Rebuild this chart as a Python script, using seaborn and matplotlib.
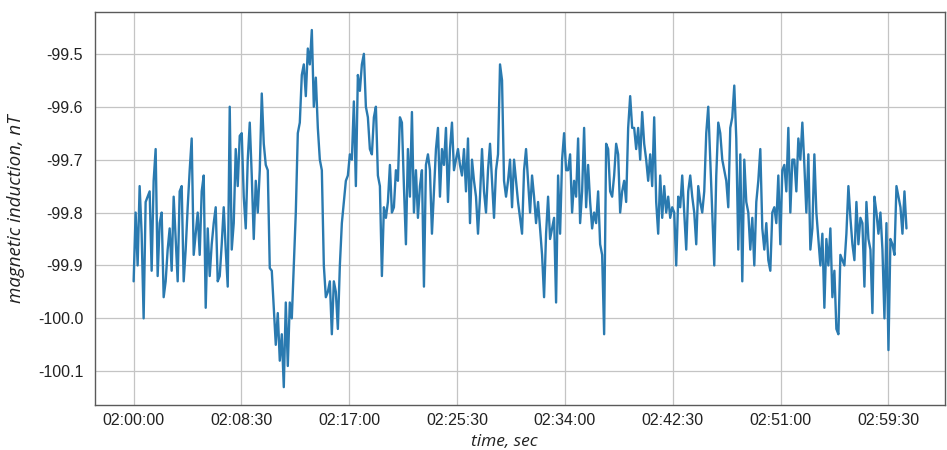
import numpy as np
import pandas as pd
import matplotlib
matplotlib.use("Agg")
import matplotlib.pyplot as plt
from matplotlib.ticker import FuncFormatter, FixedLocator
import seaborn as sns

seg1 = [-99.93, -99.80, -99.90, -99.75, -99.84, -100.00, -99.78, -99.77, -99.76, -99.91,
        -99.74, -99.68, -99.92, -99.82, -99.80, -99.96, -99.93, -99.87, -99.83, -99.91,
        -99.77, -99.85, -99.93, -99.76, -99.75, -99.93, -99.87, -99.79, -99.72, -99.66,
        -99.88, -99.84, -99.80, -99.88, -99.76, -99.73, -99.98, -99.83, -99.92, -99.86,
        -99.82, -99.79, -99.93]
seg2 = [-99.92, -99.86, -99.79, -99.87, -99.94, -99.60, -99.87, -99.82, -99.68, -99.75,
        -99.655, -99.65, -99.77, -99.83, -99.70, -99.63, -99.73, -99.85, -99.74, -99.80,
        -99.72, -99.575, -99.67, -99.71, -99.72, -99.905, -99.91, -99.98, -100.05, -99.99,
        -100.08, -100.03, -100.13, -99.97, -100.09, -99.97, -100.00, -99.90, -99.80, -99.65,
        -99.63, -99.54, -99.52, -99.58, -99.49, -99.52, -99.455, -99.60]
seg3 = [-99.545, -99.64, -99.70, -99.72, -99.90, -99.96, -99.95, -99.93, -100.03, -99.93,
        -99.95, -100.02, -99.90, -99.82, -99.78, -99.74, -99.73, -99.69, -99.70, -99.59,
        -99.75, -99.54, -99.57, -99.52, -99.50, -99.60, -99.62, -99.68, -99.69, -99.62,
        -99.60, -99.73, -99.75, -99.92, -99.79, -99.81, -99.78, -99.71, -99.80, -99.79,
        -99.72, -99.74, -99.62, -99.63, -99.75, -99.86, -99.68, -99.77]
seg4 = [-99.61, -99.80, -99.72, -99.81, -99.75, -99.72, -99.94, -99.71, -99.69, -99.72,
        -99.84, -99.76, -99.68, -99.64, -99.77, -99.68, -99.71, -99.64, -99.78, -99.68,
        -99.63, -99.72, -99.70, -99.68, -99.71, -99.73, -99.68, -99.76, -99.66, -99.82,
        -99.70, -99.74, -99.77, -99.84, -99.77, -99.68, -99.76, -99.80, -99.72, -99.67,
        -99.74, -99.81, -99.72, -99.69, -99.52, -99.55, -99.74]
seg5 = [-99.77, -99.74, -99.70, -99.79, -99.70, -99.74, -99.78, -99.81, -99.84, -99.72,
        -99.68, -99.74, -99.80, -99.73, -99.77, -99.82, -99.78, -99.83, -99.88, -99.96,
        -99.84, -99.77, -99.85, -99.83, -99.81, -99.97, -99.73, -99.84, -99.70, -99.65,
        -99.72, -99.72, -99.69, -99.80, -99.74, -99.77, -99.66, -99.82, -99.76, -99.64,
        -99.79, -99.71, -99.78, -99.83, -99.80, -99.82, -99.76, -99.86]
seg6 = [-99.88, -100.03, -99.67, -99.68, -99.76, -99.77, -99.73, -99.67, -99.69, -99.80,
        -99.76, -99.74, -99.78, -99.64, -99.58, -99.64, -99.64, -99.68, -99.64, -99.70,
        -99.61, -99.67, -99.70, -99.74, -99.69, -99.75, -99.62, -99.78, -99.84, -99.73,
        -99.81, -99.75, -99.80, -99.77, -99.81, -99.79, -99.80, -99.90, -99.77, -99.79,
        -99.73, -99.80, -99.87, -99.76, -99.73, -99.77, -99.80]
seg7 = [-99.86, -99.75, -99.78, -99.80, -99.76, -99.65, -99.60, -99.70, -99.80, -99.90,
        -99.73, -99.63, -99.65, -99.70, -99.72, -99.74, -99.79, -99.64, -99.62, -99.56,
        -99.66, -99.87, -99.69, -99.93, -99.70, -99.78, -99.80, -99.87, -99.81, -99.90,
        -99.78, -99.74, -99.68, -99.83, -99.87, -99.82, -99.89, -99.91, -99.80, -99.79,
        -99.82, -99.73, -99.86, -99.72, -99.71, -99.76, -99.64, -99.80]
seg8 = [-99.70, -99.70, -99.76, -99.66, -99.70, -99.63, -99.71, -99.80, -99.69, -99.87,
        -99.83, -99.69, -99.80, -99.85, -99.90, -99.84, -99.98, -99.85, -99.90, -99.83,
        -99.96, -99.91, -100.02, -100.03, -99.88, -99.89, -99.90, -99.84, -99.75, -99.81,
        -99.86, -99.89, -99.78, -99.86, -99.81, -99.82, -99.94, -99.78, -99.85, -99.87,
        -99.99, -99.77, -99.80, -99.84, -99.80, -99.87, -100.00, -99.82, -100.06, -99.85,
        -99.86, -99.88, -99.75, -99.77, -99.79, -99.84, -99.76, -99.83]

induction = seg1 + seg2 + seg3 + seg4 + seg5 + seg6 + seg7 + seg8
t_start_sec = 0
t_end_sec = 3655
tick_seconds = [0, 510, 1020, 1530, 2040, 2550, 3060, 3570]
y_ticks = [-100.1, -100.0, -99.9, -99.8, -99.7, -99.6, -99.5]
base_hour = 2

seconds = np.linspace(t_start_sec, t_end_sec, len(induction))
df = pd.DataFrame({"time": seconds, "induction": induction})

sns.set_theme(style="whitegrid")
plt.rcParams['font.family'] = ['Liberation Sans', 'DejaVu Sans']

fig = plt.figure(figsize=(9.47, 4.5), dpi=100)
ax = fig.add_axes([0.1003, 0.1, 0.8977, 0.873])
sns.lineplot(data=df, x="time", y="induction", ax=ax, color="#2a7ab0", linewidth=1.7)

def fmt(v, pos):
    total = int(round(v)) + base_hour * 3600
    h = total // 3600
    m = (total % 3600) // 60
    s = total % 60
    return f"{h:02d}:{m:02d}:{s:02d}"

ax.xaxis.set_major_locator(FixedLocator(tick_seconds))
ax.xaxis.set_major_formatter(FuncFormatter(fmt))
ax.set_yticks(y_ticks)
ax.yaxis.set_major_formatter(FuncFormatter(lambda v, p: f"{v:.1f}"))

ax.set_facecolor("white")
ax.grid(True, color="#c4c4c4", linewidth=0.9)
for sp in ax.spines.values():
    sp.set_visible(True)
    sp.set_color("#5a5a5a")
    sp.set_linewidth(1.0)
ax.tick_params(axis="both", which="major", labelsize=11.5, labelcolor="#222222",
               length=3.5, width=0.8, direction="out", color="#777777")
ax.tick_params(axis="x", pad=2)
ax.tick_params(axis="y", pad=5)

ax.set_xlabel("time, sec", fontsize=12.5, fontstyle="italic", family=["Open Sans", "DejaVu Sans"],
              color="#222222")
ax.set_ylabel("magnetic induction, nT", fontsize=13.5, fontstyle="italic",
              family=["Open Sans", "DejaVu Sans"], color="#222222")
ax.xaxis.set_label_coords(0.481, -0.075)
ax.yaxis.set_label_coords(-0.082, 0.5)

fig.savefig("out.png", dpi=100, facecolor="white")
